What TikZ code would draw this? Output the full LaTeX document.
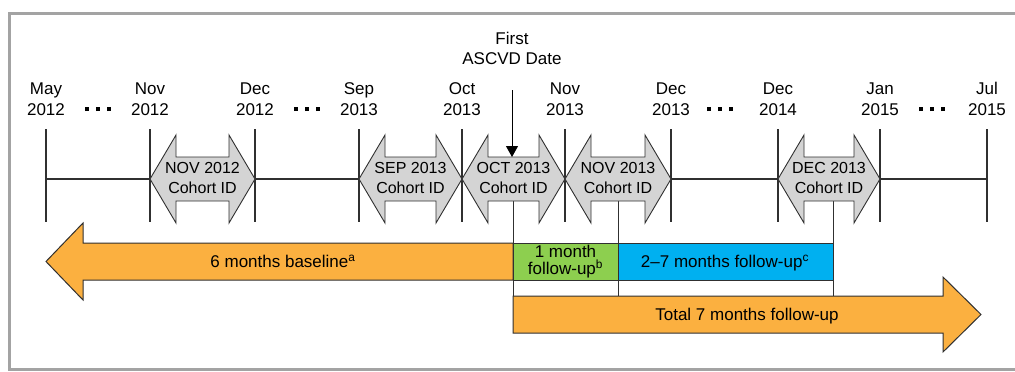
\documentclass[tikz,border=0pt]{standalone}
\usepackage{fontspec}
\setmainfont{Liberation Sans}
\usetikzlibrary{positioning}
\usetikzlibrary{calc}
\usetikzlibrary{arrows.meta}

\definecolor{barorange}{HTML}{FBB040}
\definecolor{bargreen}{HTML}{8DCF4F}
\definecolor{barblue}{HTML}{00B0F0}
\definecolor{cohortgray}{HTML}{D4D4D4}
\definecolor{framegray}{HTML}{A3A3A3}
\definecolor{edgegray}{HTML}{303030}

\begin{document}
\begin{tikzpicture}[x=1pt, y=-1pt,
	tick/.style={line width=1.1pt, edgegray},
	month/.style={align=center, inner sep=0pt, font=\fontsize{17}{20.5}\selectfont},
	cohort/.style={fill=cohortgray, draw=edgegray, line width=0.9pt},
	cohortlabel/.style={align=center, inner sep=0pt, font=\fontsize{16}{20}\selectfont},
	bar/.style={draw=edgegray, line width=1pt},
	barlabel/.style={align=center, inner sep=0pt, text depth=0pt, font=\fontsize{17}{16.5}\selectfont},
	link/.style={line width=1pt, edgegray},
	gapdots/.style={inner sep=0pt, fill=none}]
			\useasboundingbox (0,0) rectangle (1015,372);
			\draw[framegray, line width=3pt] (1020,13.5) -- (9,13.5) -- (9,369.5) -- (1020,369.5);
			
			% months on the time line
			\foreach \x/\m/\yr/\n in {46/May/2012/may12, 150/Nov/2012/nov12, 255/Dec/2012/dec12, 359/Sep/2013/sep13, 462/Oct/2013/oct13, 565/Nov/2013/nov13, 671/Dec/2013/dec13, 778/Dec/2014/dec14, 880/Jan/2015/jan15, 987/Jul/2015/jul15} {
				\coordinate (\n-top) at (\x,129);
				\coordinate (\n-mid) at (\x,179);
				\coordinate (\n-bot) at (\x,222);
				\node[month] (\n) at (\x,99) {\m\\\yr};
				\draw[tick] (\n-top) -- (\n-bot);
			}
			\draw[tick] (may12-mid) -- (nov12-mid);
			\draw[tick] (dec12-mid) -- (sep13-mid);
			\draw[tick] (dec13-mid) -- (dec14-mid);
			\draw[tick] (jan15-mid) -- (jul15-mid);
			
			\foreach \x/\n in {98/gap1, 307/gap2, 720/gap3, 932/gap4}
				\node[gapdots] (\n) at (\x,109) {\rule{4pt}{4pt}\hspace{7.3pt}\rule{4pt}{4pt}\hspace{7.3pt}\rule{4pt}{4pt}};
			
			% links down to the follow-up bar
			\coordinate (fu0-top) at (513,201);
			\coordinate (fu0-bot) at (513,296);
			\coordinate (fu1-top) at (618,201);
			\coordinate (fu1-bot) at (618,296);
			\coordinate (fu7-top) at (833,201);
			\coordinate (fu7-bot) at (833,296);
			\foreach \n in {fu0, fu1, fu7}
				\draw[link] (\n-top) -- (\n-bot);
			
			% cohort arrows
			\foreach \p/\q/\lab in {nov12/dec12/NOV 2012, sep13/oct13/SEP 2013, oct13/nov13/OCT 2013, nov13/dec13/NOV 2013, dec14/jan15/DEC 2013} {
				\filldraw[cohort] (\p-mid) -- ++(26,-44) -- ++(0,22) -- ([shift={(-26,-22)}]\q-mid) -- ++(0,-22) -- (\q-mid) -- ++(-26,44) -- ++(0,-22) -- ([shift={(26,22)}]\p-mid) -- ++(0,22) -- cycle;
				\node[cohortlabel] (id-\p) at ($(\p-mid)!0.5!(\q-mid)+(0,-1)$) {\lab\\Cohort ID};
			}
			
			\node[month] (first) at (512,48.5) {First\\ASCVD Date};
			\coordinate (ascvd-foot) at (512,157);
			\draw[link, black, -{Triangle[width=12pt,length=11pt]}] ([yshift=-25pt]first.south) -- (ascvd-foot);
			
			% bars
			\filldraw[bar, fill=barorange] (513,243) -- (83,243) -- (83,223) -- (46,261.5) -- (83,300) -- (83,280) -- (513,280) -- cycle;
			\node[barlabel] (baseline) at (283,261.5) {6 months baseline\textsuperscript{a}};
			\filldraw[bar, fill=bargreen] (513,243) rectangle (618,280);
			\node[barlabel] (fu-one) at (565.5,260) {1 month\\follow-up\textsuperscript{b}};
			\filldraw[bar, fill=barblue] (618,243) rectangle (833,280);
			\node[barlabel] (fu-rest) at (725,261.5) {2--7 months follow-up\textsuperscript{c}};
			\filldraw[bar, fill=barorange] (fu0-bot) -- (943,296) -- (943,277) -- (981,314.5) -- (943,352) -- (943,333) -- (513,333) -- cycle;
			\node[barlabel] (fu-total) at (747,314.5) {Total 7 months follow-up};
			\end{tikzpicture}
\end{document}
